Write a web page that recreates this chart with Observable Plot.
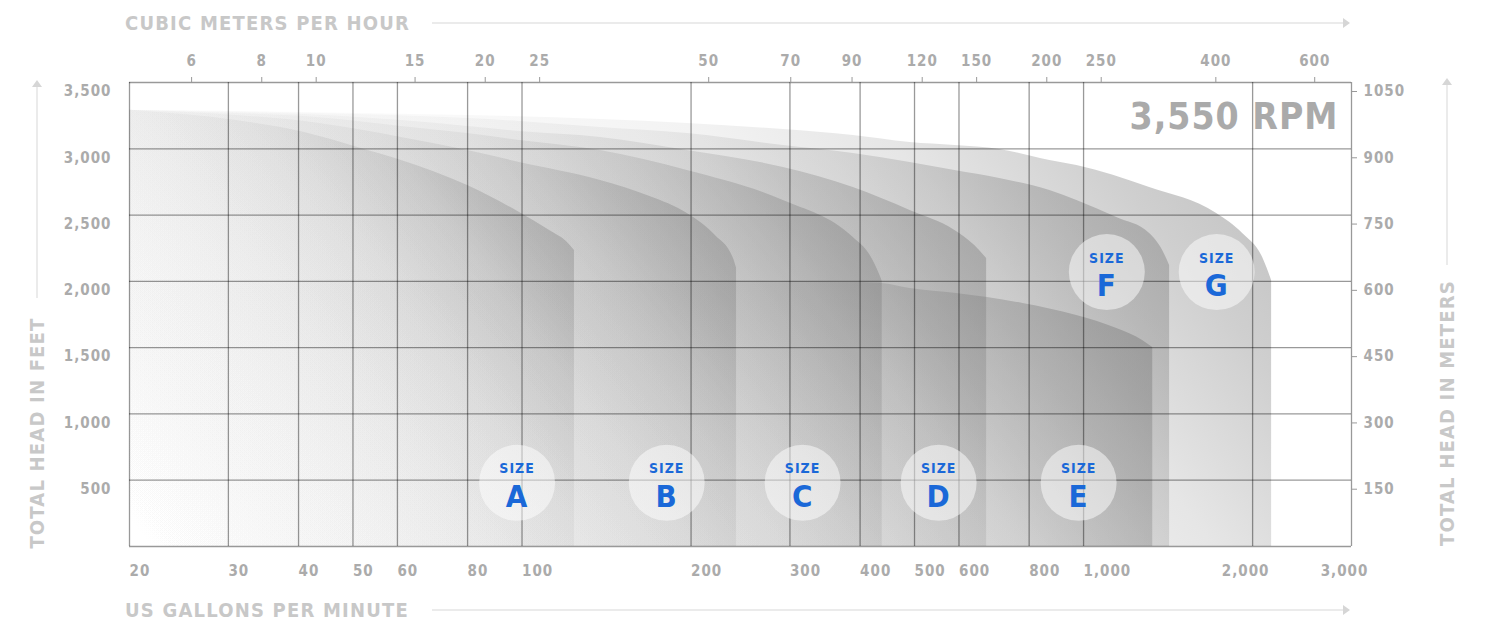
<!DOCTYPE html>
<html>
<head>
<meta charset="utf-8">
<script src="https://cdn.jsdelivr.net/npm/d3@7"></script>
<script src="https://cdn.jsdelivr.net/npm/@observablehq/plot@0.6"></script>
<style>
  body { margin: 0; background: #fff; }
  #wrap { position: relative; width: 1492px; height: 623px; overflow: hidden;
    font-family: "DejaVu Sans Condensed", "DejaVu Sans", sans-serif; font-stretch: condensed; font-weight: bold; }
  .ttl { position: absolute; color: #c8c8c8; font-size: 20px; letter-spacing: 1.2px; white-space: nowrap; line-height: 1; }
  .vt { transform: translate(-50%, -50%) rotate(-90deg); }
  .hline { position: absolute; height: 2px; background: #ebebeb; }
  .hline:after { content: ""; position: absolute; right: -6px; top: -4px; border-left: 7px solid #d6d6d6;
    border-top: 5px solid transparent; border-bottom: 5px solid transparent; }
  .vline { position: absolute; width: 2px; background: #ebebeb; }
  .vline:after { content: ""; position: absolute; top: -6px; left: -4px; border-bottom: 7px solid #d6d6d6;
    border-left: 5px solid transparent; border-right: 5px solid transparent; }
</style>
</head>
<body>
<div id="wrap">
  <div class="ttl" style="left:125px;top:13px">CUBIC METERS PER HOUR</div>
  <div class="hline" style="left:432px;top:22px;width:912px"></div>
  <div class="ttl" style="left:125px;top:600px">US GALLONS PER MINUTE</div>
  <div class="hline" style="left:432px;top:609px;width:912px"></div>
  <div class="ttl vt" style="left:37px;top:433px">TOTAL HEAD IN FEET</div>
  <div class="vline" style="left:36px;top:86px;height:212px"></div>
  <div class="ttl vt" style="left:1447px;top:413px">TOTAL HEAD IN METERS</div>
  <div class="vline" style="left:1446px;top:84px;height:181px"></div>
</div>
<script>
// ---- tick values / labels ----
const gpmTicks = [20, 30, 40, 50, 60, 80, 100, 200, 300, 400, 500, 600, 800, 1000, 2000, 3000];
const cmhTicks = [6, 8, 10, 15, 20, 25, 50, 70, 90, 120, 150, 200, 250, 400, 600];
const headTicks = [500, 1000, 1500, 2000, 2500, 3000, 3500];
const meterTicks = [150, 300, 450, 600, 750, 900, 1050];
const gpmPerCmh = 4.3;   // as placed on the chart's top axis

// ---- pump curves: [US gpm, head ft] ----
const sizeA = [[20,3290],[31,3213],[41,3123],[51,3010],[61,2912],[80,2723],[99,2519],[112,2384],[120,2300],[124,2233]];
const sizeB = [[20,3290],[31,3251],[41,3206],[51,3145],[61,3085],[80,2987],[99,2897],[138,2761],[169,2640],[197,2512],[221,2346],[238,2172],[241,2100]];
const sizeC = [[20,3290],[31,3266],[41,3243],[51,3206],[61,3168],[80,3115],[99,3062],[138,2987],[197,2836],[292,2610],[389,2331],[417,2195],[434,2044],[438,2000]];
const sizeD = [[20,3290],[31,3274],[41,3258],[51,3236],[61,3213],[80,3168],[99,3130],[138,3085],[197,2987],[292,2859],[389,2708],[491,2535],[590,2384],[640,2270],[672,2172]];
const sizeE = [[20,2010],[100,2008],[200,2004],[300,1998],[437,1984],[491,1946],[594,1908],[780,1833],[972,1742],[1146,1644],[1274,1554],[1328,1501]];
const sizeF = [[20,3290],[31,3281],[51,3258],[80,3228],[99,3206],[138,3160],[197,3115],[292,3024],[389,2964],[491,2897],[590,2836],[709,2776],[871,2685],[973,2610],[1146,2482],[1311,2361],[1383,2233],[1423,2120]];
const sizeG = [[20,3290],[31,3281],[51,3266],[80,3251],[138,3221],[197,3191],[292,3145],[389,3100],[491,3047],[590,3024],[709,2995],[871,2912],[973,2874],[1311,2708],[1726,2512],[1920,2361],[2084,2180],[2162,2006]];

// ---- size badges ----
const sizeLetters = ["A", "B", "C", "D", "E", "F", "G"];
const labelGpm = [98, 181, 316, 552, 980, 1100, 1726];
const labelHead = [480, 480, 480, 480, 480, 2070, 2070];
const rpmLabel = "3,550 RPM";

const badges = sizeLetters.map((s, i) => ({s, gpm: labelGpm[i], head: labelHead[i]}));
const layers = [sizeG, sizeF, sizeE, sizeD, sizeC, sizeB, sizeA]; // back to front

const fmt = d3.format(",");
// shading: opacity ramp along a direction ~38deg above horizontal, per shape
const shadeStops = [[0, 0], [0.3, 0.02], [0.45, 0.045], [0.6, 0.09], [0.73, 0.19], [0.86, 0.36], [1, 0.5]];
const shadeAngle = 38.5;

const gridStyle = {stroke: "#000", strokeOpacity: 0.4, strokeWidth: 1.3};
const labelStyle = {fill: "#ababab", fontSize: 15};

const chart = Plot.plot({
  width: 1492, height: 623,
  marginLeft: 129, marginRight: 141, marginTop: 82, marginBottom: 77,
  x: {type: "log", domain: [20, 3000], axis: null},
  y: {domain: [0, 3500], axis: null},
  style: {fontFamily: '"DejaVu Sans Condensed", "DejaVu Sans", sans-serif', fontWeight: "bold",
          fontStretch: "condensed", letterSpacing: "1px", background: "transparent", overflow: "visible"},
  marks: [
    ...layers.map((data, i) => Plot.areaY(data, {x: d => d[0], y: d => d[1], fill: `url(#shade-${i})`, curve: "monotone-x"})),
    Plot.ruleX(gpmTicks, {x: d => d, ...gridStyle}),
    Plot.ruleY([0, ...headTicks], {y: d => d, ...gridStyle}),
    // bottom axis labels
    Plot.text(gpmTicks.filter(d => d < 2000), {x: d => d, text: d => fmt(d), frameAnchor: "bottom",
      dy: 29, textAnchor: "start", ...labelStyle}),
    Plot.text(gpmTicks.filter(d => d >= 2000), {x: d => d, text: d => fmt(d), frameAnchor: "bottom",
      dy: 29, dx: -7, textAnchor: "middle", ...labelStyle}),
    // top axis (m3/h): ticks + labels
    Plot.axisX(cmhTicks.map(d => d * gpmPerCmh), {anchor: "top", tickSize: 6, tickFormat: () => "",
      label: null, stroke: "#999"}),
    Plot.text(cmhTicks, {x: d => d * gpmPerCmh, text: d => String(d), frameAnchor: "top", dy: -27, ...labelStyle}),
    // left axis (ft)
    Plot.axisY(headTicks, {anchor: "left", tickSize: 0, tickPadding: 18, dy: 9, label: null,
      tickFormat: d => fmt(d), fill: "#ababab", fontSize: 15}),
    // right axis (m)
    Plot.axisY(headTicks, {anchor: "right", tickSize: 5, tickPadding: 7, dy: 9, label: null,
      tickFormat: d => String(meterTicks[headTicks.indexOf(d)]), stroke: "#999", fill: "#ababab", fontSize: 15}),
    // badges
    Plot.dot(badges, {x: "gpm", y: "head", r: 38, fill: "#ffffff", fillOpacity: 0.5}),
    Plot.text(badges, {x: "gpm", y: "head", text: () => "SIZE", dy: -14, fontSize: 14, fill: "#1a68d8"}),
    Plot.text(badges, {x: "gpm", y: "head", text: "s", dy: 14, fontSize: 31, fill: "#1a68d8"}),
    // RPM
    Plot.text([rpmLabel], {text: d => d, frameAnchor: "top-right", dx: -13, dy: 35, lineAnchor: "middle",
      textAnchor: "end", fontSize: 37, fill: "#aaaaaa", letterSpacing: "2px"})
  ]
});

// gradients, computed from the plot's own scales
const sx = chart.scale("x"), sy = chart.scale("y");
const a = shadeAngle * Math.PI / 180, ux = Math.cos(a), uy = -Math.sin(a);
const defs = d3.select(chart).insert("defs", ":first-child");
layers.forEach((data, i) => {
  const x0 = sx.apply(data[0][0]), y0 = sy.apply(0);
  const x1 = sx.apply(data[data.length - 1][0]), y1 = sy.apply(d3.max(data, d => d[1]));
  const p = (x1 - x0) * ux + (y1 - y0) * uy;
  const g = defs.append("linearGradient").attr("id", `shade-${i}`).attr("gradientUnits", "userSpaceOnUse")
    .attr("x1", x0).attr("y1", y0).attr("x2", x0 + ux * p).attr("y2", y0 + uy * p);
  for (const [o, op] of shadeStops)
    g.append("stop").attr("offset", o).attr("stop-color", "#7a7a7a").attr("stop-opacity", op);
});

chart.style.position = "absolute";
chart.style.left = "0px";
chart.style.top = "0px";
document.getElementById("wrap").prepend(chart);
</script>
</body>
</html>
